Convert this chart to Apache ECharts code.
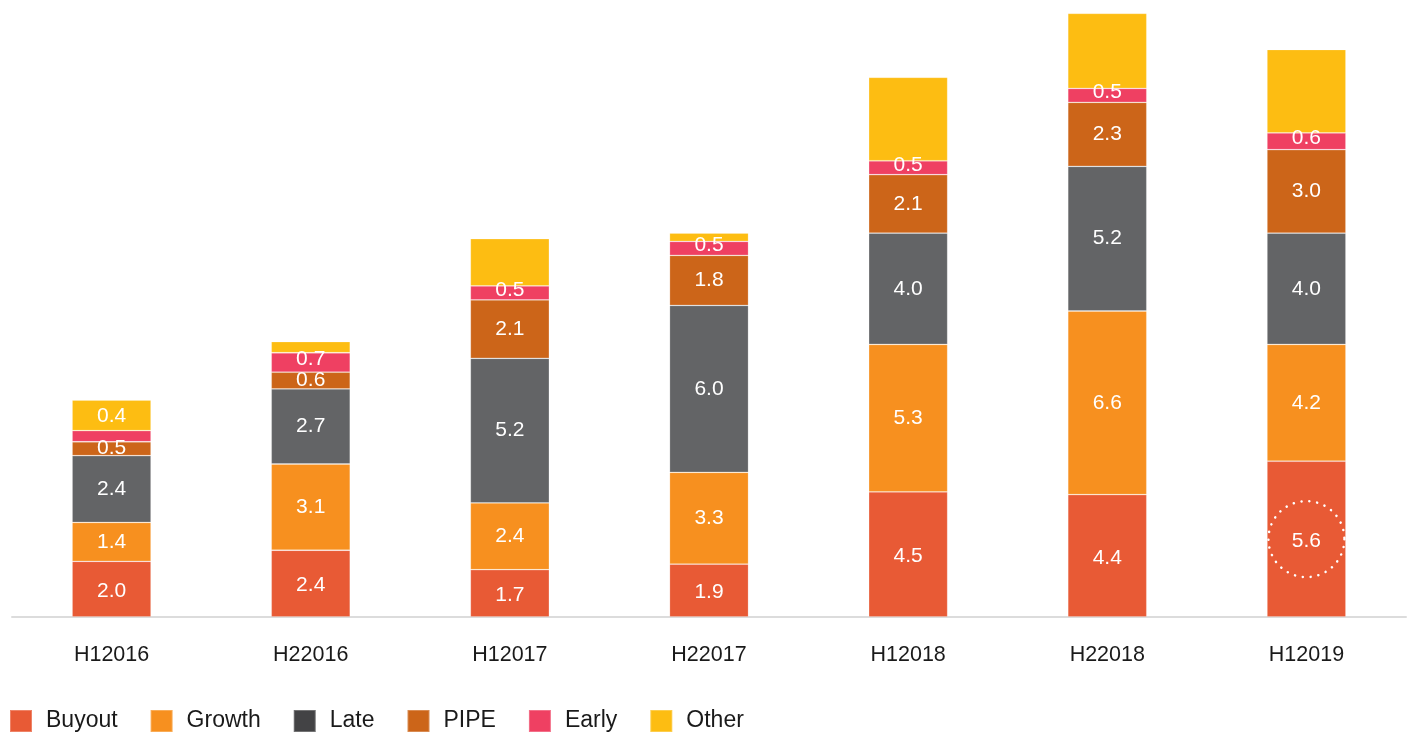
<!DOCTYPE html>
<html>
<head>
<meta charset="utf-8">
<script src="https://cdn.jsdelivr.net/npm/echarts@6/dist/echarts.min.js"></script>
<style>
  html, body { margin: 0; padding: 0; background: #fff; }
  #chart { width: 1408px; height: 733px; }
</style>
</head>
<body>
<div id="chart"></div>
<script>
const categories = ['H12016', 'H22016', 'H12017', 'H22017', 'H12018', 'H22018', 'H12019']
const buyout = [2.0, 2.4, 1.7, 1.9, 4.5, 4.4, 5.6]
const growth = [1.4, 3.1, 2.4, 3.3, 5.3, 6.6, 4.2]
const late = [2.4, 2.7, 5.2, 6.0, 4.0, 5.2, 4.0]
const pipe = [0.5, 0.6, 2.1, 1.8, 2.1, 2.3, 3.0]
const early = [0.4, 0.7, 0.5, 0.5, 0.5, 0.5, 0.6]
const other = [1.1, 0.4, 1.7, 0.3, 3.0, 2.7, 3.0]
// the bar that gets the dotted circle round its label
const highlightIndex = 6

const font = 'Liberation Sans, Arial, Helvetica, sans-serif'
const colors = {
  Buyout: '#e85a35',
  Growth: '#f7901f',
  Late: '#636466',
  PIPE: '#cc6519',
  Early: '#ef4062',
  Other: '#fdbd12'
}

function makeSeries(name, values, showLabel) {
  return {
    name: name,
    type: 'bar',
    stack: 'total',
    barWidth: 79,
    data: values,
    itemStyle: {
      color: colors[name],
      borderColor: 'rgba(255,255,255,0.25)',
      borderWidth: 0.8
    },
    label: {
      show: showLabel,
      position: 'inside',
      color: '#fff',
      fontSize: 21,
      fontFamily: font,
      formatter: (p) => Number(p.value).toFixed(1)
    }
  }
}

const earlySeries = makeSeries('Early', early.map((v) => {
  // very thin segments get their label put just above
  if (v < 0.45) {
    return {value: v, label: {position: 'top', distance: 1}}
  }
  return v
}), true)
earlySeries.label.offset = [0, -3]

const buyoutSeries = makeSeries('Buyout', buyout, true)
buyoutSeries.label.offset = [0, 2]
buyoutSeries.markPoint = {
  silent: true,
  symbol: 'circle',
  symbolSize: 76,
  itemStyle: {
    color: 'rgba(0,0,0,0)',
    borderColor: '#fff',
    borderWidth: 2.5,
    borderType: [0.1, 7.8],
    borderCap: 'round'
  },
  label: {show: false},
  data: [{coord: [categories[highlightIndex], buyout[highlightIndex] / 2]}]
}

const chart = echarts.init(document.getElementById('chart'))
chart.setOption({
  animation: false,
  backgroundColor: '#fff',
  grid: {left: 12, right: 2, top: 5, bottom: 116},
  legend: {
    left: 4,
    top: 704,
    itemWidth: 22,
    itemHeight: 22,
    itemGap: 32,
    icon: 'rect',
    textStyle: {
      fontSize: 23,
      fontFamily: font,
      color: '#1a1a1a',
      padding: [0, 0, 0, 9]
    },
    data: [
      'Buyout',
      'Growth',
      {name: 'Late', itemStyle: {color: '#434345'}},
      'PIPE',
      'Early',
      'Other'
    ]
  },
  xAxis: {
    type: 'category',
    data: categories,
    axisLine: {lineStyle: {color: '#dcdcdc', width: 2}},
    axisTick: {show: false},
    axisLabel: {
      margin: 27,
      fontSize: 21.5,
      fontFamily: font,
      color: '#1a1a1a'
    }
  },
  yAxis: {
    type: 'value',
    min: 0,
    max: 22,
    show: false
  },
  series: [
    buyoutSeries,
    makeSeries('Growth', growth, true),
    makeSeries('Late', late, true),
    makeSeries('PIPE', pipe, true),
    earlySeries,
    makeSeries('Other', other, false)
  ]
})
</script>
</body>
</html>
